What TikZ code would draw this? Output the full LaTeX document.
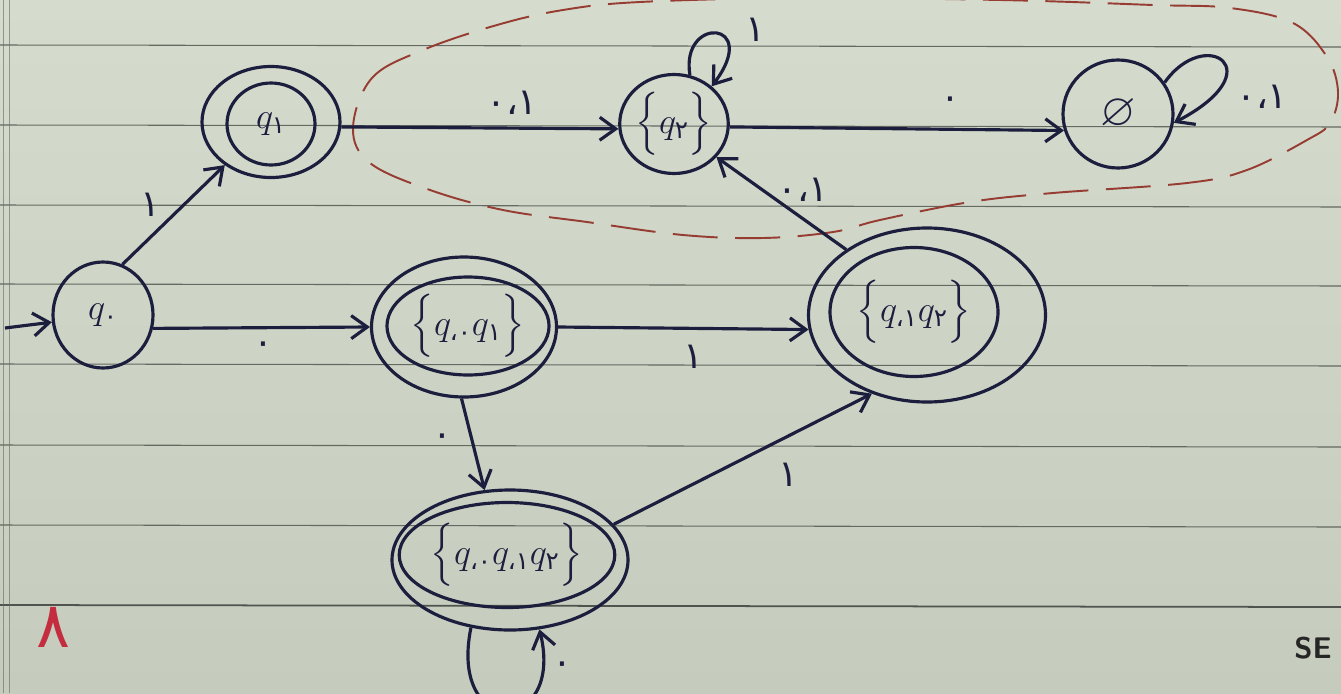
\documentclass[tikz,border=0pt]{standalone}
\usepackage{amsmath,amssymb}
\usepackage{fontspec}
\usepackage{tikz}
\usetikzlibrary{arrows.meta,shapes.geometric,positioning,calc}
\newfontfamily\farsi[Script=Arabic]{DejaVu Sans}
\newcommand{\fd}[1]{\text{\farsi #1}}

\definecolor{ink}{RGB}{28,30,62}
\definecolor{paperhi}{RGB}{214,220,205}
\definecolor{paperlo}{RGB}{197,203,189}
\definecolor{ruling}{RGB}{100,105,98}
\definecolor{redpen}{RGB}{150,60,50}
\definecolor{redmark}{RGB}{196,44,64}

\tikzset{
  stateline/.style={draw=ink, line width=1.8pt, ellipse, inner sep=0pt, text=ink,
    font=\fontsize{20}{24}\selectfont},
  sz/.style 2 args={minimum width=#1*0.02cm, minimum height=#2*0.02cm},
  trans/.style={draw=ink, line width=1.8pt, -{Straight Barb[length=3.2mm,width=4.6mm]}},
  lbl/.style={text=ink, inner sep=0pt, font=\fontsize{21}{24}\farsi},
}

\begin{document}
\begin{tikzpicture}[x=0.02cm, y=-0.02cm]
\useasboundingbox (0,0) rectangle (1341,693);
\clip (0,0) rectangle (1341,693);

% paper and ruling
\shade[top color=paperhi, bottom color=paperlo] (0,0) rectangle (1341,693);
\foreach \y in {45,125,205,284,364,445,525} {
  \draw[ruling, line width=0.6pt] (0,\y) -- (1341,\y+2);
}
\draw[ruling!80!black, line width=1pt] (0,605) -- (1341,607);
\draw[ruling, line width=0.5pt, opacity=0.6] (3,0) -- (3,693);
\draw[ruling, line width=0.5pt, opacity=0.6] (9,0) -- (9,693);

% red dashed group
\draw[redpen, line width=1.1pt, dash pattern=on 0.9cm off 0.35cm]
  plot[smooth cycle, tension=0.6] coordinates {
    (353,128) (372,78) (423,50) (497,25) (563,10) (640,2) (800,-2) (1000,0)
    (1153,5) (1230,8) (1293,23) (1327,57) (1338,92) (1330,123) (1307,140)
    (1247,170) (1187,183) (1053,193) (970,202) (880,220) (833,232) (763,238)
    (683,235) (587,222) (503,210) (430,190) (370,163)};

% states
\node[stateline, sz={100}{106}] (q0) at (103,315) {$q_{\fd{۰}}$};
\node[stateline, sz={138}{111}] (q1) at (271,122) {};
\node[stateline, sz={88}{82}] (q1in) at (271,124) {$q_{\fd{۱}}$};
\node[stateline, sz={98}{99}] (s2) at (674,124) {$\Big\{q_{\fd{۲}}\Big\}$};
\node[stateline, sz={110}{108}, font=\fontsize{26}{30}\selectfont] (e) at (1118,114) {$\varnothing$};
\node[stateline, sz={185}{140}] (s01) at (464,327) {};
\node[stateline, sz={153}{98}] (s01in) at (468,326) {$\Big\{q_{\fd{۰،}}q_{\fd{۱}}\Big\}$};
\node[stateline, sz={237}{174}] (s12) at (927,315) {};
\node[stateline, sz={168}{129}] (s12in) at (914,312) {$\Big\{q_{\fd{۱،}}q_{\fd{۲}}\Big\}$};
\node[stateline, sz={236}{140}] (s012) at (510,560) {};
\node[stateline, sz={199}{105}] (s012in) at (507,555) {$\Big\{q_{\fd{۰،}}q_{\fd{۱،}}q_{\fd{۲}}\Big\}$};

% transitions
\coordinate (start) at (5,328);
\draw[trans] (start) -- (q0.188);
\draw[trans] (q0.69) -- (q1.223);
\draw[trans] (q0.345) -- (s01.west);
\draw[trans] (q1.356) -- (s2.185);
\draw[trans] (s2.357) -- (e.197);
\draw[trans] (s2.72) .. controls (680,15) and (762,20) .. (s2.45);
\draw[trans] (e.34) .. controls (1205,25) and (1275,70) .. (e.-9);
\draw[trans] (s01.east) -- (s12.187);
\draw[trans] (s01.268) -- (s012.110);
\draw[trans] (s12.141) -- (s2.322);
\draw[trans] (s012.19) -- (s12.235);
\draw[trans] (s012.240) .. controls (448,740) and (565,735) .. (s012.293);

% labels
\node[lbl] (l1) at (150,205) {۱};
\node[lbl] (l2) at (263,348) {۰};
\node[lbl] (l3) at (512,103) {۰،۱};
\node[lbl] (l4) at (755,30) {۱};
\node[lbl] (l5) at (950,103) {۰};
\node[lbl] (l6) at (1262,97) {۰،۱};
\node[lbl] (l7) at (803,190) {۰،۱};
\node[lbl] (l8) at (693,357) {۱};
\node[lbl] (l9) at (442,440) {۰};
\node[lbl] (l10) at (788,475) {۱};
\node[lbl] (l11) at (562,668) {۰};

\node[text=redmark, inner sep=0pt, font=\fontsize{36}{40}\farsi] (num) at (53,627) {۸};
\node[anchor=west, inner sep=0pt, text=black!85, font=\fontsize{17}{20}\sffamily\bfseries] (brand) at (1294,648) {SE};
\end{tikzpicture}
\end{document}
